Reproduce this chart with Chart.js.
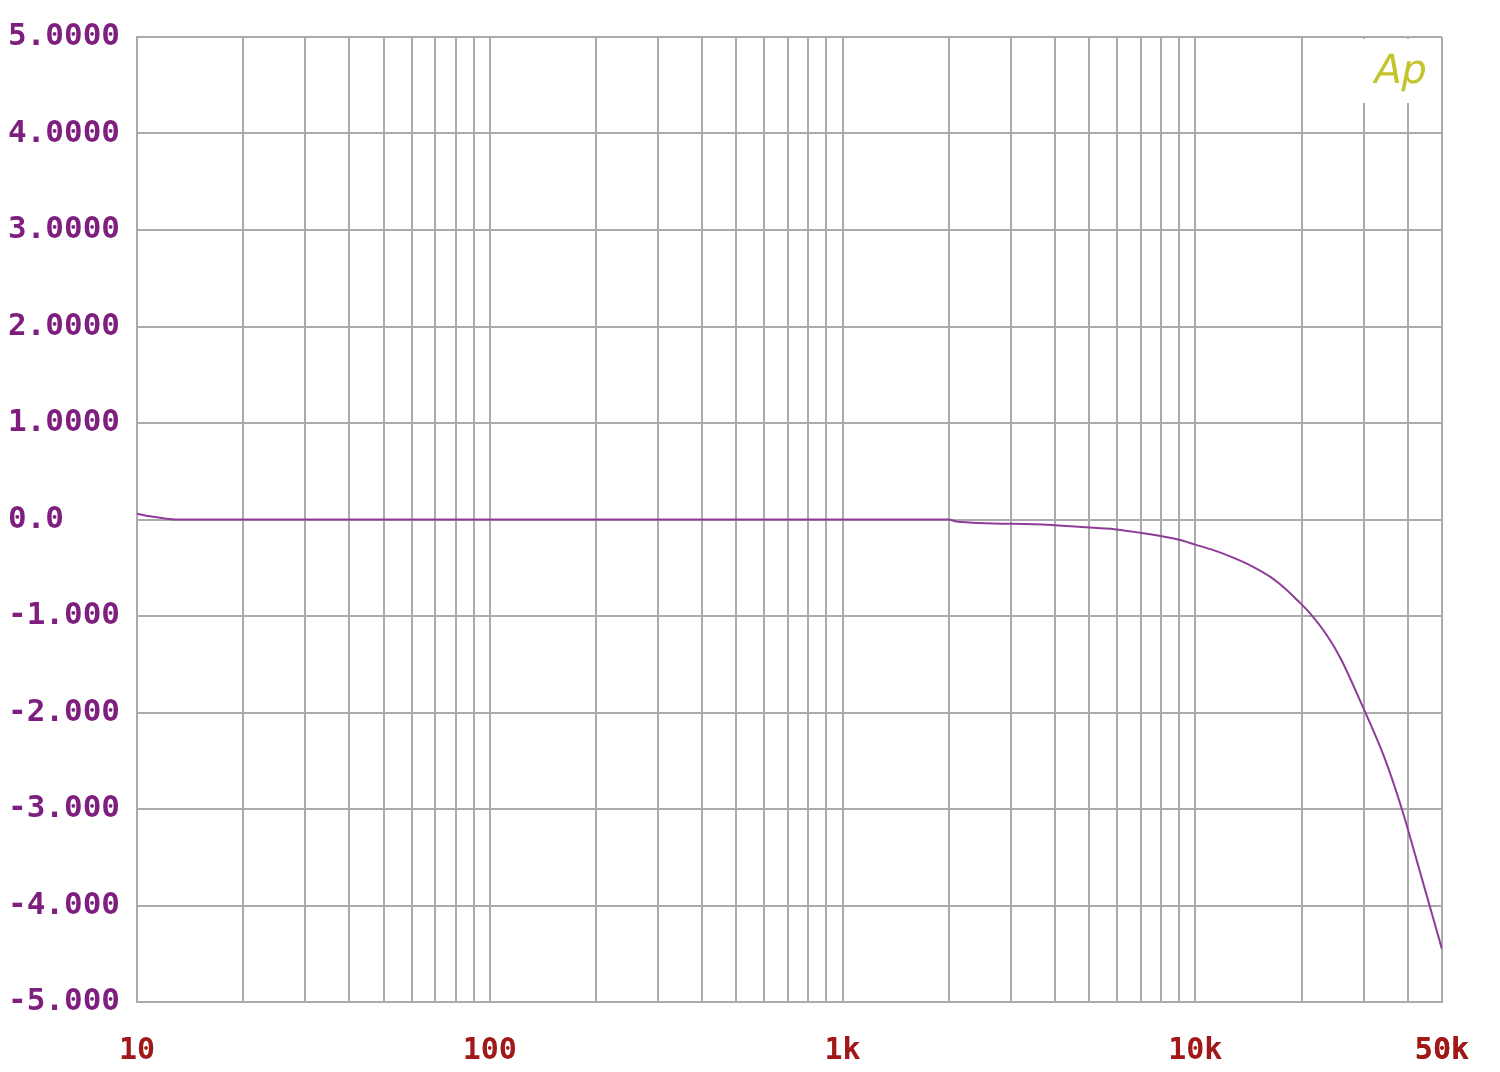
<!DOCTYPE html>
<html>
<head>
<meta charset="utf-8">
<script src="https://cdn.jsdelivr.net/npm/chart.js@4/dist/chart.umd.min.js"></script>
<style>
  html, body { margin: 0; padding: 0; background: #fff; }
  #wrap { width: 1500px; height: 1072px; }
</style>
</head>
<body>
<div id="wrap"><canvas id="myGraph"></canvas></div>
<script>
(() => {

//----- Data -----//

    var freqs = [10, 11, 12, 13, 15, 20, 50, 100, 500, 1000, 2000, 2100, 3500, 4900, 5900, 7200, 9000, 10000, 11100, 12700, 14400, 16400, 17900, 19500, 21000, 23600, 25900, 29500, 34300, 38500, 42400, 50000]
    var level = [0.06, 0.03, 0.01, 0.0, 0.0, 0.0, 0.0, 0.0, 0.0, 0.0, 0.0, -0.02, -0.05, -0.08, -0.1, -0.145, -0.21, -0.26, -0.31, -0.39, -0.48, -0.6, -0.71, -0.84, -0.96, -1.2, -1.45, -1.9, -2.46, -3.0, -3.53, -4.45]
    var xLabels = {10: '10', 100: '100', 1000: '1k', 10000: '10k', 50000: '50k'}
    var gridColor = '#ababab'

//----- Functions -----//

    function yLabel (v) {
        if (v > 0) return v.toFixed(4)
        if (v === 0) return '0.0'
        return v.toFixed(3)
    }

    function buildLogTicks (scale) {
        var ticks = []
        for (var d = 10; d <= 10000; d *= 10) {
            for (var m = 1; m <= 9; m++) {
                if (d * m <= 50000) ticks.push({ value: d * m })
            }
        }
        ticks.push({ value: 50000 })
        scale.ticks = ticks
    }

    // white patch + "Ap" mark in the top right corner
    var apLogo = {
        id: 'apLogo',
        beforeDatasetsDraw (chart) {
            var ctx = chart.ctx
            var a = chart.chartArea
            ctx.save()
            ctx.fillStyle = '#fff'
            ctx.fillRect(a.right - 92, a.top + 2, 90, 64)
            ctx.fillStyle = '#c4c42c'
            ctx.font = '40px "DejaVu Sans"'
            ctx.textAlign = 'left'
            ctx.textBaseline = 'alphabetic'
            ctx.translate(a.right - 70, a.top + 46)
            ctx.transform(1, 0, -0.2, 1, 0, 0)
            ctx.fillText('Ap', 0, 0)
            ctx.restore()
        }
    }

//----- construct chart -----//

    const data = {
        datasets: [{
            data: freqs.map((f, i) => ({ x: f, y: level[i] })),
            borderColor: '#8e3c98',
            borderWidth: 2,
            pointRadius: 0,
            cubicInterpolationMode: 'monotone',
            fill: false
        }]
    }

    const myChart = new Chart(
      document.getElementById('myGraph'), {
        type: 'line',
        data: data,
        plugins: [apLogo],
        options: {
            responsive: true,
            maintainAspectRatio: false,
            animation: false,
            layout: { padding: { left: 8, right: 58, top: 37, bottom: 0 } },
            plugins: { legend: { display: false }, tooltip: { enabled: false } },
            scales: {
                x: {
                    type: 'logarithmic',
                    min: 10,
                    max: 50000,
                    afterBuildTicks: buildLogTicks,
                    afterFit (scale) { scale.height = 70 },
                    grid: { color: gridColor, lineWidth: 2, drawTicks: false },
                    border: { color: gridColor, width: 2 },
                    ticks: {
                        autoSkip: false,
                        maxRotation: 0,
                        padding: 31,
                        color: '#a01818',
                        font: { family: '"DejaVu Sans Mono"', size: 30, weight: 'bold' },
                        callback: (v) => xLabels[v] || ''
                    }
                },
                y: {
                    min: -5,
                    max: 5,
                    afterFit (scale) { scale.width = 129 },
                    grid: { color: gridColor, lineWidth: 2, drawTicks: false },
                    border: { color: gridColor, width: 2 },
                    ticks: {
                        stepSize: 1,
                        crossAlign: 'far',
                        color: '#7e1f80',
                        font: { family: '"DejaVu Sans Mono"', size: 31, weight: 'bold' },
                        callback: yLabel
                    }
                }
            }
        }
      }
    )

})();
</script>
</body>
</html>
